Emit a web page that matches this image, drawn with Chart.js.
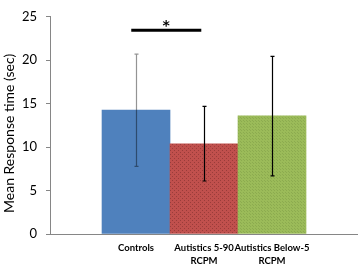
<!DOCTYPE html>
<html>
<head>
<meta charset="utf-8">
<script src="https://cdn.jsdelivr.net/npm/chart.js@4.4.1/dist/chart.umd.min.js"></script>
<style>
html,body{margin:0;padding:0;background:#fff;}
#c{display:block;}
</style>
</head>
<body>
<canvas id="c" width="358" height="265"></canvas>
<script>
// ---- data ----
const categories = ['Controls', ['Autistics 5-90', 'RCPM'], ['Autistics Below-5', 'RCPM']];
const meanTimes = [14.25, 10.37, 13.6];
const errLow = [7.78, 6.1, 6.7];
const errHigh = [20.7, 14.7, 20.45];
const yTicks = [0, 5, 10, 15, 20, 25];
const yTitle = 'Mean Response time (sec)';
const sigFrom = -0.07, sigTo = 0.96, sigLevel = 23.45, sigLabel = '*';

// ---- styles ----
function dotPattern(base, dot, step) {
  const c = document.createElement('canvas');
  c.width = step; c.height = step;
  const g = c.getContext('2d');
  g.fillStyle = base; g.fillRect(0, 0, step, step);
  g.fillStyle = dot;
  g.fillRect(0, 0, 1, 1);
  g.fillRect(Math.floor(step / 2), Math.floor(step / 2), 1, 1);
  return g.createPattern(c, 'repeat');
}
const fills = [
  '#4F81BD',
  dotPattern('#C0504D', '#9a3c3a', 4),
  dotPattern('#9BBB59', '#8cab4f', 3)
];
const errColors = ['rgba(0,0,0,0.42)', '#000', '#000'];
const axisColor = '#868686';

const extras = {
  id: 'extras',
  afterDatasetsDraw(chart) {
    const ctx = chart.ctx, xs = chart.scales.x, ys = chart.scales.y;
    ctx.save();
    meanTimes.forEach((v, i) => {
      const x = Math.round(xs.getPixelForValue(i)) + 0.5;
      const y1 = ys.getPixelForValue(errLow[i]);
      const y2 = ys.getPixelForValue(errHigh[i]);
      ctx.strokeStyle = errColors[i];
      ctx.lineWidth = 1.2;
      ctx.beginPath();
      ctx.moveTo(x, y1); ctx.lineTo(x, y2);
      ctx.moveTo(x - 2, y1); ctx.lineTo(x + 2, y1);
      ctx.moveTo(x - 2, y2); ctx.lineTo(x + 2, y2);
      ctx.stroke();
    });
    // significance bracket
    const xa = xs.getPixelForValue(sigFrom), xb = xs.getPixelForValue(sigTo);
    const yl = ys.getPixelForValue(sigLevel);
    ctx.strokeStyle = '#000';
    ctx.lineWidth = 3;
    ctx.beginPath(); ctx.moveTo(xa, yl); ctx.lineTo(xb, yl); ctx.stroke();
    ctx.fillStyle = '#000';
    ctx.font = 'bold 14px "DejaVu Sans"';
    ctx.textAlign = 'center';
    ctx.textBaseline = 'middle';
    ctx.fillText(sigLabel, (xa + xb) / 2, yl - 4);
    // y-axis title
    ctx.translate(9, (chart.chartArea.top + chart.chartArea.bottom) / 2 + 8);
    ctx.rotate(-Math.PI / 2);
    ctx.font = '14px Lato';
    ctx.textBaseline = 'middle';
    ctx.fillText(yTitle, 0, 0);
    ctx.restore();
  }
};

new Chart(document.getElementById('c'), {
  type: 'bar',
  data: {
    datasets: [{
      data: meanTimes.map((v, i) => ({ x: i, y: v })),
      backgroundColor: fills,
      borderWidth: 0,
      categoryPercentage: 1,
      barPercentage: 1
    }]
  },
  options: {
    responsive: false,
    animation: false,
    devicePixelRatio: 1,
    layout: { padding: { top: 5, right: 1, left: 0, bottom: 0 } },
    plugins: { legend: { display: false }, tooltip: { enabled: false } },
    scales: {
      x: {
        type: 'linear',
        offset: false,
        min: -1.265,
        max: 3.25,
        grid: { display: false, drawTicks: false, offset: false },
        border: { color: axisColor, width: 1 },
        afterBuildTicks: s => { s.ticks = categories.map((_, i) => ({ value: i })); },
        afterFit: s => { s.height = 31; },
        ticks: {
          autoSkip: false,
          maxRotation: 0,
          padding: 8,
          color: '#000',
          font: { family: 'Lato', size: 9.5, weight: 'bold', lineHeight: 1.35 },
          callback: v => categories[v]
        }
      },
      y: {
        min: 0,
        max: 25,
        afterBuildTicks: s => { s.ticks = yTicks.map(v => ({ value: v })); },
        afterFit: s => { s.width = 50; },
        grid: { drawOnChartArea: false, drawTicks: true, tickLength: 4, color: axisColor },
        border: { color: axisColor, width: 1 },
        ticks: { padding: 9, color: '#000', font: { family: 'Lato', size: 13 } },
        title: { display: false }
      }
    }
  },
  plugins: [extras]
});
</script>
</body>
</html>
